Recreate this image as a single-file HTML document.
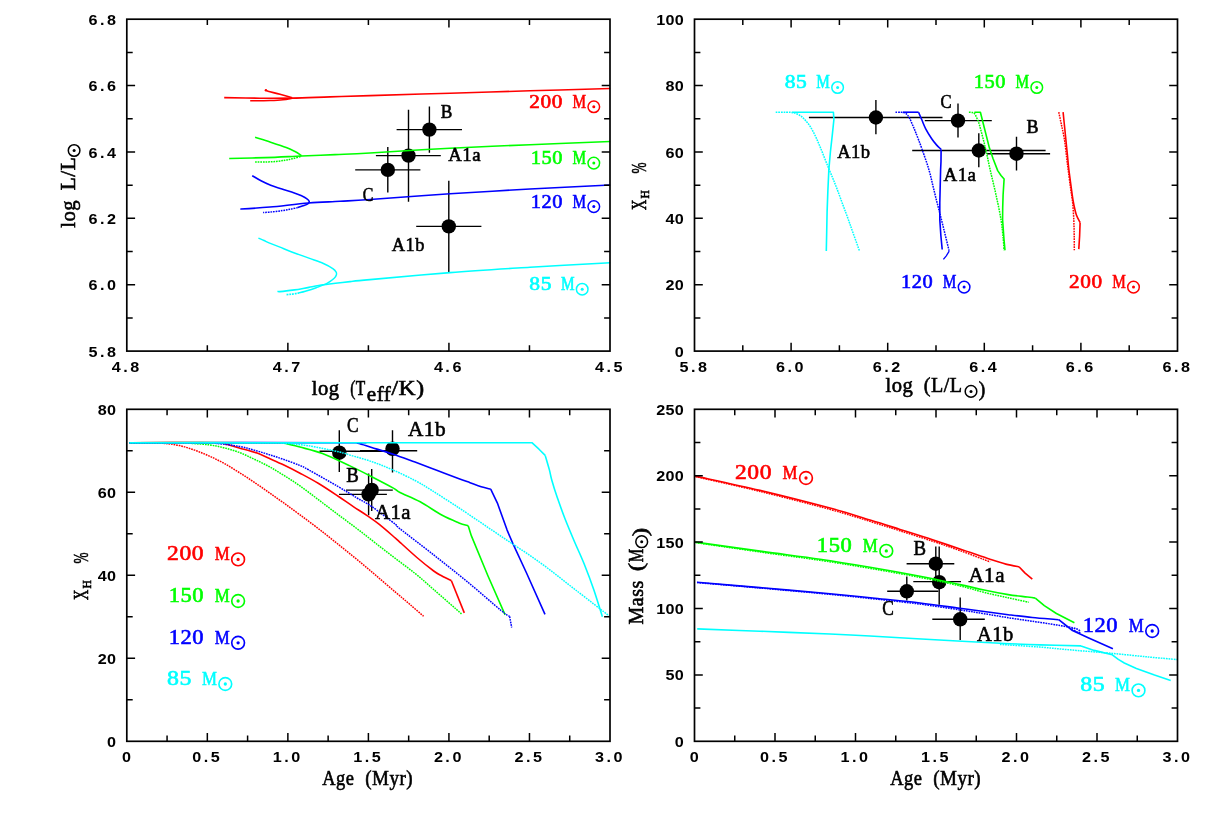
<!DOCTYPE html>
<html><head><meta charset="utf-8"><title>Evolution tracks</title>
<style>
html,body{margin:0;padding:0;background:#fff;}
body{width:1208px;height:830px;overflow:hidden;font-family:"Liberation Serif",serif;}
svg{display:block;will-change:transform;}
</style></head><body>
<svg width="1208" height="830" viewBox="0 0 1208 830">
<rect width="1208" height="830" fill="#fff"/>
<path d="M396.6 129.6H462.0M429.4 106.6V152.7" stroke="#000" stroke-width="1.4" fill="none"/>
<circle cx="429.4" cy="129.6" r="7.2" fill="#000"/>
<path d="M375.9 155.6H440.8M408.5 109.8V201.7" stroke="#000" stroke-width="1.4" fill="none"/>
<circle cx="408.5" cy="155.6" r="7.2" fill="#000"/>
<path d="M355.2 169.9H420.4M387.8 146.9V192.4" stroke="#000" stroke-width="1.4" fill="none"/>
<circle cx="387.8" cy="169.9" r="7.2" fill="#000"/>
<path d="M416.2 226.4H481.4M448.8 180.8V272.0" stroke="#000" stroke-width="1.4" fill="none"/>
<circle cx="448.8" cy="226.4" r="7.2" fill="#000"/>
<path d="M224.2 97.6C230.2 97.7 248.7 98.1 260.0 98.2C271.3 98.3 280.5 98.3 292.2 98.1C303.9 97.9 317.0 97.3 330.0 96.9C343.0 96.5 350.0 96.2 370.0 95.6C390.0 95.0 423.3 94.0 450.0 93.2C476.7 92.4 503.3 91.6 530.0 90.8C556.7 90.0 596.8 88.9 610.2 88.5" fill="none" stroke="#ff0000" stroke-width="1.60" stroke-linejoin="round"/>
<path d="M265.7 90.1C266.1 90.3 265.6 90.5 268.0 91.2C270.4 91.9 276.0 93.2 280.0 94.3C284.0 95.4 290.2 97.2 292.2 97.8" fill="none" stroke="#ff0000" stroke-width="1.60" stroke-linejoin="round"/>
<circle cx="265.9" cy="90.2" r="1.2" fill="#ff0000"/>
<path d="M250.2 100.7C253.5 100.7 264.5 100.7 270.0 100.5C275.5 100.3 279.3 100.1 283.0 99.7C286.7 99.3 290.7 98.5 292.2 98.3" fill="none" stroke="#ff0000" stroke-width="1.60" stroke-linejoin="round"/>
<path d="M229.2 158.5C235.2 158.3 252.9 158.0 265.0 157.6C277.1 157.2 289.8 156.5 301.5 156.0C313.2 155.5 323.6 155.1 335.0 154.6C346.4 154.1 350.8 154.1 370.0 153.0C389.2 151.9 423.3 149.6 450.0 148.2C476.7 146.8 503.3 145.8 530.0 144.7C556.7 143.6 596.8 142.0 610.2 141.5" fill="none" stroke="#00ff00" stroke-width="1.60" stroke-linejoin="round"/>
<path d="M255.1 137.3C257.6 138.1 264.8 140.3 270.0 142.0C275.2 143.7 282.0 145.9 286.2 147.5C290.4 149.1 292.4 150.2 295.0 151.5C297.6 152.8 300.4 154.9 301.5 155.6" fill="none" stroke="#00ff00" stroke-width="1.60" stroke-linejoin="round"/>
<path d="M255.1 162.1C256.9 162.1 262.5 162.1 266.0 162.0C269.5 161.9 273.1 161.7 276.3 161.4C279.5 161.1 282.4 160.7 285.0 160.3C287.6 159.9 289.4 159.5 292.2 158.8C294.9 158.1 299.9 156.6 301.5 156.2" fill="none" stroke="#00ff00" stroke-width="1.50" stroke-linejoin="round" stroke-dasharray="1.7 0.9"/>
<path d="M240.4 209.1C245.3 208.8 258.6 208.0 270.0 207.0C281.4 206.0 296.9 203.9 308.6 203.0C320.3 202.1 329.8 201.9 340.0 201.3C350.2 200.7 351.7 200.8 370.0 199.5C388.3 198.2 423.3 195.6 450.0 193.8C476.7 192.1 503.3 190.5 530.0 189.0C556.7 187.5 596.8 185.7 610.2 185.0" fill="none" stroke="#0000ff" stroke-width="1.60" stroke-linejoin="round"/>
<path d="M252.2 175.7C253.7 176.5 257.9 179.2 261.0 180.8C264.1 182.4 267.2 183.9 270.7 185.3C274.2 186.7 278.1 187.7 282.0 189.0C285.9 190.3 291.0 191.7 294.3 192.9C297.6 194.1 299.9 195.1 302.0 196.0C304.1 196.9 305.4 197.7 306.6 198.6C307.8 199.5 309.0 200.4 309.2 201.3C309.4 202.2 308.8 203.1 307.8 203.8C306.8 204.6 304.7 205.2 303.0 205.8C301.3 206.4 298.6 207.3 297.7 207.6" fill="none" stroke="#0000ff" stroke-width="1.60" stroke-linejoin="round"/>
<path d="M297.7 207.6C296.4 207.9 292.5 208.8 290.0 209.3C287.5 209.8 285.3 210.2 282.5 210.6C279.7 211.0 276.2 211.5 273.0 211.8C269.8 212.1 264.8 212.5 263.1 212.6" fill="none" stroke="#0000ff" stroke-width="1.50" stroke-linejoin="round" stroke-dasharray="1.7 0.9"/>
<path d="M258.4 238.1C259.3 238.5 262.2 239.7 264.0 240.5C265.8 241.3 266.3 241.7 269.0 242.8C271.7 243.9 275.8 245.5 280.0 247.2C284.2 248.9 289.7 251.2 294.5 253.0C299.3 254.8 304.1 256.4 308.9 258.1C313.7 259.9 319.4 261.8 323.4 263.5C327.4 265.2 330.7 267.2 332.8 268.6C334.9 270.0 335.4 270.8 336.0 271.8C336.6 272.8 336.7 273.6 336.4 274.7C336.1 275.8 335.8 276.9 334.2 278.3C332.6 279.8 330.0 281.8 327.0 283.4C324.0 285.0 319.8 286.4 316.2 287.7C312.6 289.0 308.2 290.4 305.3 291.3C302.4 292.2 300.1 292.6 299.0 292.9" fill="none" stroke="#00ffff" stroke-width="1.45" stroke-linejoin="round"/>
<path d="M299 292.9C296 293.6 291 294.4 285.8 294.7" fill="none" stroke="#00ffff" stroke-width="1.7" stroke-dasharray="1.8 0.9"/>
<path d="M277.5 291.2C277.9 291.3 277.2 291.8 280.0 291.6C282.8 291.4 289.7 290.6 294.5 289.9C299.3 289.2 304.1 288.2 308.9 287.4C313.7 286.5 318.6 285.5 323.4 284.8C328.2 284.1 333.4 283.5 337.8 283.0C342.2 282.5 344.6 282.2 350.0 281.6C355.4 281.0 353.3 281.1 370.0 279.6C386.7 278.1 423.3 274.7 450.0 272.6C476.7 270.5 503.3 268.9 530.0 267.2C556.7 265.5 596.8 263.4 610.2 262.7" fill="none" stroke="#00ffff" stroke-width="1.60" stroke-linejoin="round"/>
<text x="529.30" y="107.70" style="font-family:'Liberation Serif',serif;font-size:18.6px;letter-spacing:0.5px" fill="#ff0000" stroke="#ff0000" stroke-width="0.60" text-anchor="start" textLength="33.6" lengthAdjust="spacingAndGlyphs">200</text>
<text x="572.50" y="107.70" style="font-family:'Liberation Serif',serif;font-size:17.9px;letter-spacing:0.5px" fill="#ff0000" stroke="#ff0000" stroke-width="0.60" text-anchor="start" textLength="14.0" lengthAdjust="spacingAndGlyphs">M</text>
<circle cx="593.8" cy="106.8" r="5.80" fill="none" stroke="#ff0000" stroke-width="1.50"/>
<circle cx="593.8" cy="106.8" r="1.50" fill="#ff0000"/>
<text x="530.70" y="164.00" style="font-family:'Liberation Serif',serif;font-size:18.6px;letter-spacing:0.5px" fill="#00ff00" stroke="#00ff00" stroke-width="0.60" text-anchor="start" textLength="32.2" lengthAdjust="spacingAndGlyphs">150</text>
<text x="572.50" y="164.00" style="font-family:'Liberation Serif',serif;font-size:17.9px;letter-spacing:0.5px" fill="#00ff00" stroke="#00ff00" stroke-width="0.60" text-anchor="start" textLength="14.0" lengthAdjust="spacingAndGlyphs">M</text>
<circle cx="593.8" cy="163.1" r="5.80" fill="none" stroke="#00ff00" stroke-width="1.50"/>
<circle cx="593.8" cy="163.1" r="1.50" fill="#00ff00"/>
<text x="530.70" y="207.50" style="font-family:'Liberation Serif',serif;font-size:18.6px;letter-spacing:0.5px" fill="#0000ff" stroke="#0000ff" stroke-width="0.60" text-anchor="start" textLength="32.2" lengthAdjust="spacingAndGlyphs">120</text>
<text x="572.50" y="207.50" style="font-family:'Liberation Serif',serif;font-size:17.9px;letter-spacing:0.5px" fill="#0000ff" stroke="#0000ff" stroke-width="0.60" text-anchor="start" textLength="14.0" lengthAdjust="spacingAndGlyphs">M</text>
<circle cx="593.8" cy="206.6" r="5.80" fill="none" stroke="#0000ff" stroke-width="1.50"/>
<circle cx="593.8" cy="206.6" r="1.50" fill="#0000ff"/>
<text x="529.30" y="290.10" style="font-family:'Liberation Serif',serif;font-size:18.6px;letter-spacing:0.5px" fill="#00ffff" stroke="#00ffff" stroke-width="0.60" text-anchor="start" textLength="22.7" lengthAdjust="spacingAndGlyphs">85</text>
<text x="560.90" y="290.10" style="font-family:'Liberation Serif',serif;font-size:17.9px;letter-spacing:0.5px" fill="#00ffff" stroke="#00ffff" stroke-width="0.60" text-anchor="start" textLength="14.0" lengthAdjust="spacingAndGlyphs">M</text>
<circle cx="582.2" cy="289.2" r="5.80" fill="none" stroke="#00ffff" stroke-width="1.50"/>
<circle cx="582.2" cy="289.2" r="1.50" fill="#00ffff"/>
<text x="440.80" y="117.70" style="font-family:'Liberation Serif',serif;font-size:19.8px;letter-spacing:0.5px" fill="#000" stroke="#000" stroke-width="0.60" text-anchor="start" textLength="12.0" lengthAdjust="spacingAndGlyphs">B</text>
<text x="448.30" y="161.40" style="font-family:'Liberation Serif',serif;font-size:19.8px;letter-spacing:0.5px" fill="#000" stroke="#000" stroke-width="0.60" text-anchor="start" textLength="32.8" lengthAdjust="spacingAndGlyphs">A1a</text>
<text x="362.70" y="200.60" style="font-family:'Liberation Serif',serif;font-size:19.8px;letter-spacing:0.5px" fill="#000" stroke="#000" stroke-width="0.60" text-anchor="start" textLength="11.0" lengthAdjust="spacingAndGlyphs">C</text>
<text x="391.80" y="250.80" style="font-family:'Liberation Serif',serif;font-size:19.8px;letter-spacing:0.5px" fill="#000" stroke="#000" stroke-width="0.60" text-anchor="start" textLength="33.1" lengthAdjust="spacingAndGlyphs">A1b</text>
<path d="M808.9 117.5H942.5M875.9 100.0V134.2" stroke="#000" stroke-width="1.4" fill="none"/>
<circle cx="875.9" cy="117.5" r="7.2" fill="#000"/>
<path d="M924.8 120.6H991.8M958.0 103.4V137.6" stroke="#000" stroke-width="1.4" fill="none"/>
<circle cx="958.0" cy="120.6" r="7.2" fill="#000"/>
<path d="M912.2 150.5H1045.6M978.8 133.3V167.2" stroke="#000" stroke-width="1.4" fill="none"/>
<circle cx="978.8" cy="150.5" r="7.2" fill="#000"/>
<path d="M987.0 153.7H1050.1M1016.5 136.7V170.6" stroke="#000" stroke-width="1.4" fill="none"/>
<circle cx="1016.5" cy="153.7" r="7.2" fill="#000"/>
<polyline points="792.0,112.2 833.4,112.2 833.9,119.5 832.2,135.9 830.4,152.0 828.9,168.9 827.9,190.0 827.1,211.9 826.7,232.0 826.3,251.1" fill="none" stroke="#00ffff" stroke-width="1.60" stroke-linejoin="round"/>
<path d="M775.7 112.2C777.4 112.2 783.0 112.1 786.0 112.2C789.0 112.3 791.1 112.2 793.5 112.8C795.9 113.4 798.5 114.4 800.5 115.7C802.5 117.0 803.8 118.6 805.5 120.5C807.2 122.4 808.9 124.3 810.6 127.1C812.3 129.8 814.1 133.4 815.8 137.0C817.5 140.6 818.6 143.3 820.8 148.6C823.0 153.9 826.3 162.6 828.9 168.9C831.5 175.2 833.8 180.6 836.1 186.5C838.4 192.4 840.7 199.0 842.7 204.3C844.7 209.6 846.2 213.7 847.9 218.3C849.6 223.0 850.8 226.7 852.8 232.2C854.8 237.7 858.5 248.1 859.6 251.3" fill="none" stroke="#00ffff" stroke-width="1.50" stroke-linejoin="round" stroke-dasharray="1.7 0.9"/>
<polyline points="903.0,112.2 918.6,112.2" fill="none" stroke="#0000ff" stroke-width="1.60" stroke-linejoin="round"/>
<path d="M918.6 112.2C919.1 113.5 920.6 117.0 921.8 119.8C923.0 122.6 924.1 125.7 925.7 128.8C927.4 132.0 929.9 136.0 931.7 138.7C933.5 141.4 935.1 143.3 936.7 145.1C938.3 146.9 940.4 148.7 941.1 149.4" fill="none" stroke="#0000ff" stroke-width="1.60" stroke-linejoin="round"/>
<polyline points="941.1,149.4 941.0,161.3 940.6,170.0 939.8,203.1 939.8,219.7 940.9,236.0 942.2,249.5" fill="none" stroke="#0000ff" stroke-width="1.60" stroke-linejoin="round"/>
<path d="M895.5 112.2C896.4 112.2 899.4 112.2 901.0 112.3C902.6 112.4 903.8 112.4 904.9 112.9C906.0 113.4 906.8 114.2 907.6 115.2C908.4 116.2 909.0 117.1 909.9 118.8C910.8 120.5 911.8 123.2 912.8 125.5C913.8 127.8 914.3 128.8 915.8 132.7C917.3 136.5 919.6 142.4 921.8 148.6C924.0 154.8 927.0 163.1 929.0 170.0C931.0 176.9 932.2 183.3 933.9 189.9C935.5 196.5 937.2 203.1 938.9 209.7C940.6 216.3 942.2 222.7 943.9 229.6C945.6 236.5 948.3 247.5 949.2 251.1" fill="none" stroke="#0000ff" stroke-width="1.50" stroke-linejoin="round" stroke-dasharray="1.7 0.9"/>
<polyline points="949.2,251.1 946.3,255.8 943.4,259.4" fill="none" stroke="#0000ff" stroke-width="1.30" stroke-linejoin="round"/>
<polyline points="974.4,112.2 980.4,112.2 984.3,127.8 989.3,147.6 993.0,158.5 997.7,170.6 1001.0,175.5 1004.1,179.1 1003.1,194.8 1002.7,208.0 1002.6,219.7 1004.0,239.5 1005.0,250.3" fill="none" stroke="#00ff00" stroke-width="1.60" stroke-linejoin="round"/>
<path d="M968.9 112.2C969.4 112.2 971.1 112.3 972.0 112.5C972.9 112.7 973.6 112.5 974.4 113.4C975.2 114.3 976.0 116.1 976.8 118.0C977.6 119.9 978.0 119.9 979.4 124.8C980.8 129.7 983.5 140.1 985.3 147.6C987.1 155.1 988.4 162.1 990.2 170.0C992.0 177.9 994.2 186.5 996.0 194.8C997.8 203.1 999.8 212.2 1001.0 219.7C1002.2 227.1 1002.8 234.4 1003.3 239.5C1003.8 244.6 1003.9 248.5 1004.0 250.3" fill="none" stroke="#00ff00" stroke-width="1.50" stroke-linejoin="round" stroke-dasharray="1.7 0.9"/>
<path d="M1063.1 112.2C1063.4 115.0 1064.2 123.4 1064.8 129.0C1065.4 134.6 1066.0 141.2 1066.5 146.0C1067.0 150.8 1067.3 154.0 1067.7 158.0C1068.1 162.0 1068.2 163.9 1068.9 170.0C1069.7 176.1 1071.4 188.9 1072.2 194.8C1073.0 200.7 1073.3 202.2 1074.0 205.5C1074.7 208.8 1075.3 211.8 1076.3 214.7C1077.3 217.5 1079.5 221.3 1080.1 222.6" fill="none" stroke="#ff0000" stroke-width="1.60" stroke-linejoin="round"/>
<polyline points="1080.1,222.6 1079.6,236.2 1078.8,249.1" fill="none" stroke="#ff0000" stroke-width="1.60" stroke-linejoin="round"/>
<path d="M1058.8 112.2C1059.2 114.3 1060.5 120.3 1061.5 125.0C1062.5 129.7 1063.8 135.2 1064.6 140.5C1065.4 145.8 1066.0 152.1 1066.6 157.0C1067.2 161.9 1067.5 164.8 1068.2 170.0C1068.9 175.2 1069.8 182.5 1070.6 188.0C1071.3 193.5 1072.2 197.8 1072.7 203.1C1073.2 208.4 1073.5 214.4 1073.8 219.7C1074.0 225.0 1074.1 229.9 1074.2 235.0C1074.3 240.1 1074.3 247.8 1074.3 250.3" fill="none" stroke="#ff0000" stroke-width="1.50" stroke-linejoin="round" stroke-dasharray="1.7 0.9"/>
<text x="784.70" y="88.40" style="font-family:'Liberation Serif',serif;font-size:18.6px;letter-spacing:0.5px" fill="#00ffff" stroke="#00ffff" stroke-width="0.60" text-anchor="start" textLength="22.7" lengthAdjust="spacingAndGlyphs">85</text>
<text x="816.30" y="88.40" style="font-family:'Liberation Serif',serif;font-size:17.9px;letter-spacing:0.5px" fill="#00ffff" stroke="#00ffff" stroke-width="0.60" text-anchor="start" textLength="14.0" lengthAdjust="spacingAndGlyphs">M</text>
<circle cx="837.6" cy="87.5" r="5.80" fill="none" stroke="#00ffff" stroke-width="1.50"/>
<circle cx="837.6" cy="87.5" r="1.50" fill="#00ffff"/>
<text x="973.70" y="88.40" style="font-family:'Liberation Serif',serif;font-size:18.6px;letter-spacing:0.5px" fill="#00ff00" stroke="#00ff00" stroke-width="0.60" text-anchor="start" textLength="32.2" lengthAdjust="spacingAndGlyphs">150</text>
<text x="1015.50" y="88.40" style="font-family:'Liberation Serif',serif;font-size:17.9px;letter-spacing:0.5px" fill="#00ff00" stroke="#00ff00" stroke-width="0.60" text-anchor="start" textLength="14.0" lengthAdjust="spacingAndGlyphs">M</text>
<circle cx="1036.8" cy="87.5" r="5.80" fill="none" stroke="#00ff00" stroke-width="1.50"/>
<circle cx="1036.8" cy="87.5" r="1.50" fill="#00ff00"/>
<text x="901.00" y="288.00" style="font-family:'Liberation Serif',serif;font-size:18.6px;letter-spacing:0.5px" fill="#0000ff" stroke="#0000ff" stroke-width="0.60" text-anchor="start" textLength="32.2" lengthAdjust="spacingAndGlyphs">120</text>
<text x="942.80" y="288.00" style="font-family:'Liberation Serif',serif;font-size:17.9px;letter-spacing:0.5px" fill="#0000ff" stroke="#0000ff" stroke-width="0.60" text-anchor="start" textLength="14.0" lengthAdjust="spacingAndGlyphs">M</text>
<circle cx="964.1" cy="287.1" r="5.80" fill="none" stroke="#0000ff" stroke-width="1.50"/>
<circle cx="964.1" cy="287.1" r="1.50" fill="#0000ff"/>
<text x="1069.00" y="288.00" style="font-family:'Liberation Serif',serif;font-size:18.6px;letter-spacing:0.5px" fill="#ff0000" stroke="#ff0000" stroke-width="0.60" text-anchor="start" textLength="33.6" lengthAdjust="spacingAndGlyphs">200</text>
<text x="1112.20" y="288.00" style="font-family:'Liberation Serif',serif;font-size:17.9px;letter-spacing:0.5px" fill="#ff0000" stroke="#ff0000" stroke-width="0.60" text-anchor="start" textLength="14.0" lengthAdjust="spacingAndGlyphs">M</text>
<circle cx="1133.5" cy="287.1" r="5.80" fill="none" stroke="#ff0000" stroke-width="1.50"/>
<circle cx="1133.5" cy="287.1" r="1.50" fill="#ff0000"/>
<text x="940.60" y="107.90" style="font-family:'Liberation Serif',serif;font-size:19.8px;letter-spacing:0.5px" fill="#000" stroke="#000" stroke-width="0.60" text-anchor="start" textLength="11.5" lengthAdjust="spacingAndGlyphs">C</text>
<text x="1026.60" y="132.80" style="font-family:'Liberation Serif',serif;font-size:19.8px;letter-spacing:0.5px" fill="#000" stroke="#000" stroke-width="0.60" text-anchor="start" textLength="12.5" lengthAdjust="spacingAndGlyphs">B</text>
<text x="943.50" y="181.00" style="font-family:'Liberation Serif',serif;font-size:19.8px;letter-spacing:0.5px" fill="#000" stroke="#000" stroke-width="0.60" text-anchor="start" textLength="33.0" lengthAdjust="spacingAndGlyphs">A1a</text>
<text x="837.20" y="157.50" style="font-family:'Liberation Serif',serif;font-size:19.8px;letter-spacing:0.5px" fill="#000" stroke="#000" stroke-width="0.60" text-anchor="start" textLength="33.4" lengthAdjust="spacingAndGlyphs">A1b</text>
<path d="M319.5 451.3H386.0M339.3 430.2V471.9" stroke="#000" stroke-width="1.4" fill="none"/>
<circle cx="339.3" cy="452.7" r="7.2" fill="#000"/>
<path d="M360.0 450.8H417.2M392.5 430.2V472.4" stroke="#000" stroke-width="1.4" fill="none"/>
<circle cx="392.5" cy="448.8" r="7.2" fill="#000"/>
<path d="M339.0 494.4H386.9M368.6 473.5V515.2" stroke="#000" stroke-width="1.4" fill="none"/>
<circle cx="368.6" cy="494.4" r="7.2" fill="#000"/>
<path d="M346.0 490.1H392.8M371.7 469.1V510.9" stroke="#000" stroke-width="1.4" fill="none"/>
<circle cx="371.7" cy="489.9" r="7.2" fill="#000"/>
<path d="M129.5 442.7C132.9 442.7 144.1 442.7 150.0 442.8C155.9 442.9 159.8 442.9 164.7 443.4C169.6 443.9 174.6 444.5 179.6 445.6C184.6 446.7 189.5 448.4 194.5 450.1C199.5 451.9 204.4 453.9 209.4 456.1C214.4 458.3 219.3 460.8 224.3 463.5C229.3 466.2 234.2 469.4 239.2 472.5C244.2 475.6 249.1 478.8 254.1 482.2C259.1 485.6 264.0 489.1 269.0 492.6C274.0 496.1 278.7 499.3 283.9 503.0C289.1 506.7 294.2 510.6 300.0 514.9C305.8 519.2 312.3 523.9 318.6 528.8C324.9 533.6 331.4 538.9 337.8 544.0C344.2 549.1 350.7 554.4 357.1 559.6C363.5 564.9 369.6 570.0 376.0 575.5C382.4 581.0 390.0 587.6 395.7 592.4C401.4 597.2 405.4 600.5 410.0 604.5C414.6 608.5 421.3 614.3 423.6 616.3" fill="none" stroke="#ff0000" stroke-width="1.50" stroke-linejoin="round" stroke-dasharray="1.7 0.9"/>
<path d="M129.5 442.7C143.8 442.7 199.2 442.5 215.0 442.7C230.8 442.9 220.3 442.8 224.3 443.7C228.3 444.6 233.7 446.3 239.2 447.9C244.7 449.5 252.1 451.4 257.1 453.1C262.1 454.8 264.5 456.3 269.0 458.3C273.5 460.3 278.7 462.5 283.9 465.0C289.1 467.5 294.2 470.1 300.0 473.2C305.8 476.3 312.3 479.7 318.6 483.5C324.9 487.3 332.0 492.1 337.8 496.0C343.6 499.9 348.5 503.4 353.3 506.6C358.1 509.8 362.4 512.3 366.7 515.3C371.0 518.3 374.5 520.5 379.3 524.4C384.1 528.2 392.2 535.4 395.7 538.4C399.1 541.4 396.5 539.1 400.0 542.3C403.5 545.5 411.3 552.7 416.9 557.5C422.5 562.3 429.5 567.9 433.7 571.0C437.9 574.1 439.1 574.4 442.0 576.0C444.9 577.6 449.8 579.9 451.4 580.7" fill="none" stroke="#ff0000" stroke-width="1.60" stroke-linejoin="round"/>
<polyline points="451.4,580.7 464.3,612.9" fill="none" stroke="#ff0000" stroke-width="1.60" stroke-linejoin="round"/>
<path d="M129.5 442.7C137.9 442.7 169.7 442.6 180.0 442.7C190.3 442.8 186.6 443.0 191.5 443.4C196.4 443.8 203.9 444.1 209.4 444.9C214.9 445.6 219.3 446.6 224.3 447.9C229.3 449.1 234.2 450.5 239.2 452.4C244.2 454.3 249.1 456.8 254.1 459.1C259.1 461.5 264.0 463.8 269.0 466.5C274.0 469.2 278.7 472.2 283.9 475.4C289.1 478.6 294.2 481.8 300.0 485.9C305.8 490.0 312.3 495.1 318.6 499.8C324.9 504.6 331.4 509.6 337.8 514.4C344.2 519.2 350.7 523.9 357.1 528.8C363.5 533.6 369.6 538.5 376.0 543.5C382.4 548.5 389.0 553.6 395.7 558.7C402.4 563.8 409.7 569.1 416.0 574.2C422.3 579.3 426.1 582.9 433.7 589.5C441.3 596.1 457.0 609.9 461.6 614.0" fill="none" stroke="#00ff00" stroke-width="1.50" stroke-linejoin="round" stroke-dasharray="1.7 0.9"/>
<path d="M129.5 442.7C153.2 442.7 246.3 442.6 272.0 442.7C297.7 442.8 279.2 442.4 283.9 443.1C288.6 443.8 293.6 445.4 300.0 447.1C306.4 448.8 314.2 450.4 322.5 453.5C330.8 456.6 341.8 462.0 350.0 465.9C358.2 469.8 364.5 473.0 371.7 476.7C378.9 480.4 388.7 485.5 393.4 488.1C398.1 490.7 395.5 490.2 400.0 492.5C404.5 494.8 413.2 498.0 420.2 501.8C427.2 505.6 435.7 511.8 442.2 515.3C448.7 518.8 454.7 521.1 459.0 522.9C463.3 524.6 466.7 525.3 468.2 525.8" fill="none" stroke="#00ff00" stroke-width="1.60" stroke-linejoin="round"/>
<polyline points="468.2,525.8 471.4,535.9 488.0,576.0 505.1,614.9" fill="none" stroke="#00ff00" stroke-width="1.60" stroke-linejoin="round"/>
<path d="M129.5 442.7C142.1 442.7 190.4 442.6 205.0 442.7C219.6 442.8 211.2 442.8 216.9 443.4C222.6 444.0 233.0 445.3 239.2 446.4C245.4 447.5 249.1 448.7 254.1 450.1C259.1 451.5 264.0 453.0 269.0 454.6C274.0 456.2 278.7 457.7 283.9 459.5C289.1 461.3 295.8 463.8 300.0 465.5C304.2 467.2 302.6 466.5 308.9 470.0C315.2 473.5 329.8 481.7 337.8 486.4C345.8 491.1 351.5 494.6 357.1 498.0C362.8 501.4 365.3 502.1 371.7 506.5C378.1 510.9 390.8 520.7 395.5 524.4C400.2 528.1 393.6 523.7 400.0 528.8C406.4 533.9 422.4 546.0 433.7 554.9C444.9 563.8 456.2 572.6 467.5 581.9C478.8 591.2 494.2 604.8 501.2 610.6C508.2 616.4 508.2 615.5 509.6 616.5" fill="none" stroke="#0000ff" stroke-width="1.50" stroke-linejoin="round" stroke-dasharray="1.7 0.9"/>
<polyline points="509.6,616.5 511.7,627.5" fill="none" stroke="#0000ff" stroke-width="1.50" stroke-linejoin="round" stroke-dasharray="1.7 0.9"/>
<path d="M129.5 442.7C165.8 442.7 309.0 442.6 347.0 442.7C385.0 442.8 353.5 442.4 357.6 443.2C361.7 444.0 365.9 445.7 371.7 447.5C377.5 449.3 385.3 451.6 392.5 454.0C399.7 456.4 407.6 459.4 415.0 462.1C422.4 464.8 429.5 467.5 436.7 470.2C443.9 472.9 452.8 476.3 458.4 478.4C463.9 480.5 466.2 481.3 470.0 482.7C473.8 484.1 477.8 485.7 481.2 486.8C484.6 487.9 489.1 488.7 490.7 489.1" fill="none" stroke="#0000ff" stroke-width="1.60" stroke-linejoin="round"/>
<polyline points="490.7,489.1 497.4,503.1 507.1,530.1 512.9,543.6 526.3,572.5 545.0,614.3" fill="none" stroke="#0000ff" stroke-width="1.60" stroke-linejoin="round"/>
<path d="M129.5 442.7C153.2 442.7 246.6 442.6 272.0 442.7C297.4 442.8 276.0 442.5 282.0 443.0C288.0 443.5 298.4 444.2 308.0 445.7C317.6 447.2 332.8 450.5 339.8 452.1C346.8 453.7 344.7 453.5 350.0 455.1C355.3 456.7 364.6 459.2 371.7 461.6C378.8 464.0 385.1 466.6 392.3 469.7C399.5 472.8 408.5 477.1 415.0 480.5C421.5 483.9 425.4 486.4 431.2 490.0C437.0 493.6 443.9 498.1 450.0 502.0C456.1 505.9 459.0 507.9 467.5 513.6C476.0 519.3 489.1 528.2 501.2 536.4C513.3 544.5 527.7 553.6 540.0 562.5C552.3 571.4 563.3 580.5 575.0 589.5C586.7 598.5 604.2 612.1 610.0 616.6" fill="none" stroke="#00ffff" stroke-width="1.50" stroke-linejoin="round" stroke-dasharray="1.7 0.9"/>
<polyline points="129.5,442.7 531.9,442.7 539.0,449.2 545.2,455.4" fill="none" stroke="#00ffff" stroke-width="1.60" stroke-linejoin="round"/>
<path d="M545.2 455.4C545.9 457.8 548.3 465.7 549.4 469.9C550.5 474.1 550.6 475.9 551.9 480.5C553.2 485.1 555.0 491.0 557.2 497.3C559.4 503.6 562.0 511.1 564.9 518.5C567.8 525.9 571.3 534.2 574.5 541.7C577.7 549.2 580.9 555.8 584.1 563.8C587.3 571.8 590.8 581.0 593.8 589.8C596.8 598.6 601.0 612.3 602.4 616.8" fill="none" stroke="#00ffff" stroke-width="1.60" stroke-linejoin="round"/>
<text x="167.14" y="560.40" style="font-family:'Liberation Serif',serif;font-size:20.5px;letter-spacing:0.5px" fill="#ff0000" stroke="#ff0000" stroke-width="0.60" text-anchor="start" textLength="37.0" lengthAdjust="spacingAndGlyphs">200</text>
<text x="214.66" y="560.40" style="font-family:'Liberation Serif',serif;font-size:19.6px;letter-spacing:0.5px" fill="#ff0000" stroke="#ff0000" stroke-width="0.60" text-anchor="start" textLength="15.4" lengthAdjust="spacingAndGlyphs">M</text>
<circle cx="238.1" cy="559.4" r="6.38" fill="none" stroke="#ff0000" stroke-width="1.65"/>
<circle cx="238.1" cy="559.4" r="1.65" fill="#ff0000"/>
<text x="168.68" y="602.00" style="font-family:'Liberation Serif',serif;font-size:20.5px;letter-spacing:0.5px" fill="#00ff00" stroke="#00ff00" stroke-width="0.60" text-anchor="start" textLength="35.4" lengthAdjust="spacingAndGlyphs">150</text>
<text x="214.66" y="602.00" style="font-family:'Liberation Serif',serif;font-size:19.6px;letter-spacing:0.5px" fill="#00ff00" stroke="#00ff00" stroke-width="0.60" text-anchor="start" textLength="15.4" lengthAdjust="spacingAndGlyphs">M</text>
<circle cx="238.1" cy="601.0" r="6.38" fill="none" stroke="#00ff00" stroke-width="1.65"/>
<circle cx="238.1" cy="601.0" r="1.65" fill="#00ff00"/>
<text x="168.68" y="643.80" style="font-family:'Liberation Serif',serif;font-size:20.5px;letter-spacing:0.5px" fill="#0000ff" stroke="#0000ff" stroke-width="0.60" text-anchor="start" textLength="35.4" lengthAdjust="spacingAndGlyphs">120</text>
<text x="214.66" y="643.80" style="font-family:'Liberation Serif',serif;font-size:19.6px;letter-spacing:0.5px" fill="#0000ff" stroke="#0000ff" stroke-width="0.60" text-anchor="start" textLength="15.4" lengthAdjust="spacingAndGlyphs">M</text>
<circle cx="238.1" cy="642.8" r="6.38" fill="none" stroke="#0000ff" stroke-width="1.65"/>
<circle cx="238.1" cy="642.8" r="1.65" fill="#0000ff"/>
<text x="167.14" y="685.00" style="font-family:'Liberation Serif',serif;font-size:20.5px;letter-spacing:0.5px" fill="#00ffff" stroke="#00ffff" stroke-width="0.60" text-anchor="start" textLength="25.0" lengthAdjust="spacingAndGlyphs">85</text>
<text x="201.90" y="685.00" style="font-family:'Liberation Serif',serif;font-size:19.6px;letter-spacing:0.5px" fill="#00ffff" stroke="#00ffff" stroke-width="0.60" text-anchor="start" textLength="15.4" lengthAdjust="spacingAndGlyphs">M</text>
<circle cx="225.3" cy="684.0" r="6.38" fill="none" stroke="#00ffff" stroke-width="1.65"/>
<circle cx="225.3" cy="684.0" r="1.65" fill="#00ffff"/>
<text x="347.00" y="432.00" style="font-family:'Liberation Serif',serif;font-size:21.8px;letter-spacing:0.5px" fill="#000" stroke="#000" stroke-width="0.60" text-anchor="start" textLength="12.0" lengthAdjust="spacingAndGlyphs">C</text>
<text x="407.90" y="436.30" style="font-family:'Liberation Serif',serif;font-size:21.8px;letter-spacing:0.5px" fill="#000" stroke="#000" stroke-width="0.60" text-anchor="start" textLength="38.2" lengthAdjust="spacingAndGlyphs">A1b</text>
<text x="346.20" y="481.50" style="font-family:'Liberation Serif',serif;font-size:21.8px;letter-spacing:0.5px" fill="#000" stroke="#000" stroke-width="0.60" text-anchor="start" textLength="13.0" lengthAdjust="spacingAndGlyphs">B</text>
<text x="374.90" y="518.80" style="font-family:'Liberation Serif',serif;font-size:21.8px;letter-spacing:0.5px" fill="#000" stroke="#000" stroke-width="0.60" text-anchor="start" textLength="36.2" lengthAdjust="spacingAndGlyphs">A1a</text>
<path d="M906.6 563.7H954.3M935.8 546.4V581.0" stroke="#000" stroke-width="1.4" fill="none"/>
<circle cx="935.8" cy="563.7" r="7.2" fill="#000"/>
<path d="M913.3 581.6H961.0M939.2 546.4V604.7" stroke="#000" stroke-width="1.4" fill="none"/>
<circle cx="939.2" cy="582.2" r="7.2" fill="#000"/>
<path d="M887.2 591.3H938.4M906.8 576.6V600.6" stroke="#000" stroke-width="1.4" fill="none"/>
<circle cx="906.8" cy="591.3" r="7.2" fill="#000"/>
<path d="M932.3 619.3H984.8M960.2 597.5V639.9" stroke="#000" stroke-width="1.4" fill="none"/>
<circle cx="960.2" cy="619.3" r="7.2" fill="#000"/>
<path d="M695.4 476.1C706.2 478.5 737.6 485.1 760.0 490.4C782.4 495.7 811.7 503.2 830.0 508.1C848.3 513.0 858.3 516.5 870.0 520.0C881.7 523.5 889.6 526.1 900.0 529.4C910.4 532.7 922.6 536.5 932.6 539.8C942.6 543.1 950.4 545.8 960.0 549.0C969.6 552.2 982.5 556.8 990.1 559.3C997.7 561.8 1001.0 562.9 1005.8 564.1C1010.6 565.3 1016.8 566.3 1019.0 566.7" fill="none" stroke="#ff0000" stroke-width="1.60" stroke-linejoin="round"/>
<polyline points="1019.0,566.7 1025.1,573.1 1032.3,579.2" fill="none" stroke="#ff0000" stroke-width="1.60" stroke-linejoin="round"/>
<path d="M695.4 476.6C706.2 479.1 737.6 485.9 760.0 491.4C782.4 496.9 811.7 504.4 830.0 509.4C848.3 514.4 858.3 517.8 870.0 521.4C881.7 525.0 889.6 527.5 900.0 530.8C910.4 534.1 922.6 537.9 932.6 541.2C942.6 544.5 950.4 547.2 960.0 550.6C969.6 554.0 985.1 560.0 990.1 561.9" fill="none" stroke="#ff0000" stroke-width="1.50" stroke-linejoin="round" stroke-dasharray="1.7 0.9"/>
<path d="M695.4 542.1C706.2 543.6 739.2 548.2 760.0 551.1C780.8 554.0 801.7 556.5 820.0 559.2C838.3 561.9 853.3 564.4 870.0 567.2C886.7 570.0 905.0 573.3 920.0 576.2C935.0 579.1 949.3 582.3 960.0 584.6C970.7 586.9 976.1 588.3 984.1 590.0C992.1 591.7 1001.0 593.4 1008.2 594.6C1015.4 595.8 1023.0 596.4 1027.5 597.0C1032.0 597.6 1034.0 597.9 1035.3 598.1" fill="none" stroke="#00ff00" stroke-width="1.60" stroke-linejoin="round"/>
<polyline points="1035.3,598.1 1044.3,605.7 1056.4,613.5 1074.4,622.8" fill="none" stroke="#00ff00" stroke-width="1.60" stroke-linejoin="round"/>
<path d="M695.4 542.6C706.2 544.2 739.2 549.0 760.0 552.0C780.8 555.0 801.7 557.6 820.0 560.3C838.3 563.0 853.3 565.5 870.0 568.4C886.7 571.2 905.0 574.5 920.0 577.4C935.0 580.3 949.3 583.4 960.0 585.9C970.7 588.4 976.1 590.4 984.1 592.4C992.1 594.4 1000.8 596.1 1008.2 597.8C1015.6 599.4 1025.3 601.5 1028.7 602.3" fill="none" stroke="#00ff00" stroke-width="1.50" stroke-linejoin="round" stroke-dasharray="1.7 0.9"/>
<path d="M697.0 582.3C707.5 583.2 737.8 585.7 760.0 587.6C782.2 589.5 810.8 591.9 830.0 593.7C849.2 595.5 860.0 596.7 875.0 598.2C890.0 599.8 905.8 601.3 920.0 603.0C934.2 604.7 949.3 606.9 960.0 608.3C970.7 609.7 976.1 610.4 984.1 611.5C992.1 612.6 1000.2 613.7 1008.2 614.7C1016.2 615.7 1023.9 616.7 1032.3 617.5C1040.7 618.3 1054.3 619.3 1058.7 619.7" fill="none" stroke="#0000ff" stroke-width="1.60" stroke-linejoin="round"/>
<polyline points="1058.7,619.7 1072.5,630.5 1088.2,637.7 1112.9,648.8" fill="none" stroke="#0000ff" stroke-width="1.60" stroke-linejoin="round"/>
<path d="M697.0 582.6C707.5 583.5 737.8 586.0 760.0 588.0C782.2 590.0 810.8 592.5 830.0 594.3C849.2 596.1 860.0 597.4 875.0 599.0C890.0 600.6 905.8 602.3 920.0 604.1C934.2 605.9 949.3 608.3 960.0 609.9C970.7 611.5 976.1 612.4 984.1 613.7C992.1 615.0 1000.2 616.4 1008.2 617.7C1016.2 619.0 1024.3 620.1 1032.3 621.3C1040.3 622.5 1050.4 623.9 1056.4 624.9C1062.4 625.9 1065.1 626.4 1068.4 627.0C1071.7 627.6 1074.2 628.0 1076.0 628.6C1077.8 629.2 1078.8 629.8 1079.4 630.4C1080.0 631.0 1080.3 632.0 1079.8 632.2C1079.3 632.4 1078.0 632.4 1076.6 631.8C1075.2 631.1 1072.3 628.9 1071.5 628.3" fill="none" stroke="#0000ff" stroke-width="1.50" stroke-linejoin="round" stroke-dasharray="1.7 0.9"/>
<path d="M697.2 628.9C707.7 629.3 737.9 630.4 760.0 631.2C782.1 632.1 811.7 633.2 830.0 634.0C848.3 634.8 852.5 635.0 870.0 636.0C887.5 637.0 913.3 638.6 935.0 639.8C956.7 641.0 982.5 642.4 1000.0 643.2C1017.5 644.1 1026.5 644.5 1040.0 644.9C1053.5 645.3 1074.2 645.7 1081.0 645.9" fill="none" stroke="#00ffff" stroke-width="1.60" stroke-linejoin="round"/>
<polyline points="1081.0,645.9 1094.2,650.4 1112.3,654.8 1118.3,659.4 1124.3,663.0 1136.4,668.4 1154.5,675.1 1170.7,680.5" fill="none" stroke="#00ffff" stroke-width="1.60" stroke-linejoin="round"/>
<path d="M1000.0 644.4C1006.7 644.9 1027.3 646.1 1040.0 647.1C1052.7 648.1 1064.0 649.4 1076.1 650.4C1088.1 651.4 1100.2 652.3 1112.3 653.4C1124.3 654.5 1137.6 656.0 1148.4 657.0C1159.2 658.0 1172.5 659.2 1177.3 659.6" fill="none" stroke="#00ffff" stroke-width="1.50" stroke-linejoin="round" stroke-dasharray="1.7 0.9"/>
<text x="735.04" y="479.00" style="font-family:'Liberation Serif',serif;font-size:20.5px;letter-spacing:0.5px" fill="#ff0000" stroke="#ff0000" stroke-width="0.60" text-anchor="start" textLength="37.0" lengthAdjust="spacingAndGlyphs">200</text>
<text x="782.56" y="479.00" style="font-family:'Liberation Serif',serif;font-size:19.6px;letter-spacing:0.5px" fill="#ff0000" stroke="#ff0000" stroke-width="0.60" text-anchor="start" textLength="15.4" lengthAdjust="spacingAndGlyphs">M</text>
<circle cx="806.0" cy="478.0" r="6.38" fill="none" stroke="#ff0000" stroke-width="1.65"/>
<circle cx="806.0" cy="478.0" r="1.65" fill="#ff0000"/>
<text x="816.88" y="551.90" style="font-family:'Liberation Serif',serif;font-size:20.5px;letter-spacing:0.5px" fill="#00ff00" stroke="#00ff00" stroke-width="0.60" text-anchor="start" textLength="35.4" lengthAdjust="spacingAndGlyphs">150</text>
<text x="862.86" y="551.90" style="font-family:'Liberation Serif',serif;font-size:19.6px;letter-spacing:0.5px" fill="#00ff00" stroke="#00ff00" stroke-width="0.60" text-anchor="start" textLength="15.4" lengthAdjust="spacingAndGlyphs">M</text>
<circle cx="886.3" cy="550.9" r="6.38" fill="none" stroke="#00ff00" stroke-width="1.65"/>
<circle cx="886.3" cy="550.9" r="1.65" fill="#00ff00"/>
<text x="1082.78" y="632.00" style="font-family:'Liberation Serif',serif;font-size:20.5px;letter-spacing:0.5px" fill="#0000ff" stroke="#0000ff" stroke-width="0.60" text-anchor="start" textLength="35.4" lengthAdjust="spacingAndGlyphs">120</text>
<text x="1128.76" y="632.00" style="font-family:'Liberation Serif',serif;font-size:19.6px;letter-spacing:0.5px" fill="#0000ff" stroke="#0000ff" stroke-width="0.60" text-anchor="start" textLength="15.4" lengthAdjust="spacingAndGlyphs">M</text>
<circle cx="1152.2" cy="631.0" r="6.38" fill="none" stroke="#0000ff" stroke-width="1.65"/>
<circle cx="1152.2" cy="631.0" r="1.65" fill="#0000ff"/>
<text x="1080.34" y="691.40" style="font-family:'Liberation Serif',serif;font-size:20.5px;letter-spacing:0.5px" fill="#00ffff" stroke="#00ffff" stroke-width="0.60" text-anchor="start" textLength="25.0" lengthAdjust="spacingAndGlyphs">85</text>
<text x="1115.10" y="691.40" style="font-family:'Liberation Serif',serif;font-size:19.6px;letter-spacing:0.5px" fill="#00ffff" stroke="#00ffff" stroke-width="0.60" text-anchor="start" textLength="15.4" lengthAdjust="spacingAndGlyphs">M</text>
<circle cx="1138.5" cy="690.4" r="6.38" fill="none" stroke="#00ffff" stroke-width="1.65"/>
<circle cx="1138.5" cy="690.4" r="1.65" fill="#00ffff"/>
<text x="913.60" y="555.00" style="font-family:'Liberation Serif',serif;font-size:21.8px;letter-spacing:0.5px" fill="#000" stroke="#000" stroke-width="0.60" text-anchor="start" textLength="13.0" lengthAdjust="spacingAndGlyphs">B</text>
<text x="968.40" y="581.50" style="font-family:'Liberation Serif',serif;font-size:21.8px;letter-spacing:0.5px" fill="#000" stroke="#000" stroke-width="0.60" text-anchor="start" textLength="36.6" lengthAdjust="spacingAndGlyphs">A1a</text>
<text x="882.30" y="614.60" style="font-family:'Liberation Serif',serif;font-size:21.8px;letter-spacing:0.5px" fill="#000" stroke="#000" stroke-width="0.60" text-anchor="start" textLength="12.0" lengthAdjust="spacingAndGlyphs">C</text>
<text x="976.90" y="641.00" style="font-family:'Liberation Serif',serif;font-size:21.8px;letter-spacing:0.5px" fill="#000" stroke="#000" stroke-width="0.60" text-anchor="start" textLength="36.8" lengthAdjust="spacingAndGlyphs">A1b</text>
<path d="M529.47 351.10v-5.90M529.47 19.20v5.90M448.93 351.10v-8.30M448.93 19.20v8.30M368.40 351.10v-5.90M368.40 19.20v5.90M287.87 351.10v-8.30M287.87 19.20v8.30M207.33 351.10v-5.90M207.33 19.20v5.90M126.80 317.91h5.90M610.00 317.91h-5.90M126.80 284.72h8.30M610.00 284.72h-8.30M126.80 251.53h5.90M610.00 251.53h-5.90M126.80 218.34h8.30M610.00 218.34h-8.30M126.80 185.15h5.90M610.00 185.15h-5.90M126.80 151.96h8.30M610.00 151.96h-8.30M126.80 118.77h5.90M610.00 118.77h-5.90M126.80 85.58h8.30M610.00 85.58h-8.30M126.80 52.39h5.90M610.00 52.39h-5.90" stroke="#000" stroke-width="1.50" fill="none"/>
<rect x="126.80" y="19.20" width="483.20" height="331.90" fill="none" stroke="#000" stroke-width="1.70"/>
<text transform="scale(1.10 1)" x="544.95 553.36 561.77" y="372.30" text-anchor="middle" style="font-family:'Liberation Sans',sans-serif;font-weight:bold;font-size:14.7px">4.5</text>
<text transform="scale(1.10 1)" x="398.53 406.94 415.35" y="372.30" text-anchor="middle" style="font-family:'Liberation Sans',sans-serif;font-weight:bold;font-size:14.7px">4.6</text>
<text transform="scale(1.10 1)" x="252.11 260.52 268.92" y="372.30" text-anchor="middle" style="font-family:'Liberation Sans',sans-serif;font-weight:bold;font-size:14.7px">4.7</text>
<text transform="scale(1.10 1)" x="105.68 114.09 122.50" y="372.30" text-anchor="middle" style="font-family:'Liberation Sans',sans-serif;font-weight:bold;font-size:14.7px">4.8</text>
<text transform="scale(1.10 1)" x="84.55 92.95 101.36" y="356.70" text-anchor="middle" style="font-family:'Liberation Sans',sans-serif;font-weight:bold;font-size:14.7px">5.8</text>
<text transform="scale(1.10 1)" x="84.55 92.95 101.36" y="290.32" text-anchor="middle" style="font-family:'Liberation Sans',sans-serif;font-weight:bold;font-size:14.7px">6.0</text>
<text transform="scale(1.10 1)" x="84.55 92.95 101.36" y="223.94" text-anchor="middle" style="font-family:'Liberation Sans',sans-serif;font-weight:bold;font-size:14.7px">6.2</text>
<text transform="scale(1.10 1)" x="84.55 92.95 101.36" y="157.56" text-anchor="middle" style="font-family:'Liberation Sans',sans-serif;font-weight:bold;font-size:14.7px">6.4</text>
<text transform="scale(1.10 1)" x="84.55 92.95 101.36" y="91.18" text-anchor="middle" style="font-family:'Liberation Sans',sans-serif;font-weight:bold;font-size:14.7px">6.6</text>
<text transform="scale(1.10 1)" x="84.55 92.95 101.36" y="24.80" text-anchor="middle" style="font-family:'Liberation Sans',sans-serif;font-weight:bold;font-size:14.7px">6.8</text>
<path d="M742.80 351.10v-5.90M742.80 19.20v5.90M791.10 351.10v-8.30M791.10 19.20v8.30M839.40 351.10v-5.90M839.40 19.20v5.90M887.70 351.10v-8.30M887.70 19.20v8.30M936.00 351.10v-5.90M936.00 19.20v5.90M984.30 351.10v-8.30M984.30 19.20v8.30M1032.60 351.10v-5.90M1032.60 19.20v5.90M1080.90 351.10v-8.30M1080.90 19.20v8.30M1129.20 351.10v-5.90M1129.20 19.20v5.90M694.50 317.91h5.90M1177.50 317.91h-5.90M694.50 284.72h8.30M1177.50 284.72h-8.30M694.50 251.53h5.90M1177.50 251.53h-5.90M694.50 218.34h8.30M1177.50 218.34h-8.30M694.50 185.15h5.90M1177.50 185.15h-5.90M694.50 151.96h8.30M1177.50 151.96h-8.30M694.50 118.77h5.90M1177.50 118.77h-5.90M694.50 85.58h8.30M1177.50 85.58h-8.30M694.50 52.39h5.90M1177.50 52.39h-5.90" stroke="#000" stroke-width="1.50" fill="none"/>
<rect x="694.50" y="19.20" width="483.00" height="331.90" fill="none" stroke="#000" stroke-width="1.70"/>
<text transform="scale(1.10 1)" x="621.77 630.18 638.59" y="372.30" text-anchor="middle" style="font-family:'Liberation Sans',sans-serif;font-weight:bold;font-size:14.7px">5.8</text>
<text transform="scale(1.10 1)" x="709.59 718.00 726.41" y="372.30" text-anchor="middle" style="font-family:'Liberation Sans',sans-serif;font-weight:bold;font-size:14.7px">6.0</text>
<text transform="scale(1.10 1)" x="797.41 805.82 814.23" y="372.30" text-anchor="middle" style="font-family:'Liberation Sans',sans-serif;font-weight:bold;font-size:14.7px">6.2</text>
<text transform="scale(1.10 1)" x="885.23 893.64 902.05" y="372.30" text-anchor="middle" style="font-family:'Liberation Sans',sans-serif;font-weight:bold;font-size:14.7px">6.4</text>
<text transform="scale(1.10 1)" x="973.05 981.45 989.86" y="372.30" text-anchor="middle" style="font-family:'Liberation Sans',sans-serif;font-weight:bold;font-size:14.7px">6.6</text>
<text transform="scale(1.10 1)" x="1060.86 1069.27 1077.68" y="372.30" text-anchor="middle" style="font-family:'Liberation Sans',sans-serif;font-weight:bold;font-size:14.7px">6.8</text>
<text transform="scale(1.10 1)" x="617.45" y="356.70" text-anchor="middle" style="font-family:'Liberation Sans',sans-serif;font-weight:bold;font-size:14.7px">0</text>
<text transform="scale(1.10 1)" x="609.05 617.45" y="290.32" text-anchor="middle" style="font-family:'Liberation Sans',sans-serif;font-weight:bold;font-size:14.7px">20</text>
<text transform="scale(1.10 1)" x="609.05 617.45" y="223.94" text-anchor="middle" style="font-family:'Liberation Sans',sans-serif;font-weight:bold;font-size:14.7px">40</text>
<text transform="scale(1.10 1)" x="609.05 617.45" y="157.56" text-anchor="middle" style="font-family:'Liberation Sans',sans-serif;font-weight:bold;font-size:14.7px">60</text>
<text transform="scale(1.10 1)" x="609.05 617.45" y="91.18" text-anchor="middle" style="font-family:'Liberation Sans',sans-serif;font-weight:bold;font-size:14.7px">80</text>
<text transform="scale(1.10 1)" x="600.64 609.05 617.45" y="24.80" text-anchor="middle" style="font-family:'Liberation Sans',sans-serif;font-weight:bold;font-size:14.7px">100</text>
<path d="M167.07 741.30v-5.90M167.07 409.30v5.90M207.33 741.30v-8.30M207.33 409.30v8.30M247.60 741.30v-5.90M247.60 409.30v5.90M287.87 741.30v-8.30M287.87 409.30v8.30M328.13 741.30v-5.90M328.13 409.30v5.90M368.40 741.30v-8.30M368.40 409.30v8.30M408.67 741.30v-5.90M408.67 409.30v5.90M448.93 741.30v-8.30M448.93 409.30v8.30M489.20 741.30v-5.90M489.20 409.30v5.90M529.47 741.30v-8.30M529.47 409.30v8.30M569.73 741.30v-5.90M569.73 409.30v5.90M126.80 699.80h5.90M610.00 699.80h-5.90M126.80 658.30h8.30M610.00 658.30h-8.30M126.80 616.80h5.90M610.00 616.80h-5.90M126.80 575.30h8.30M610.00 575.30h-8.30M126.80 533.80h5.90M610.00 533.80h-5.90M126.80 492.30h8.30M610.00 492.30h-8.30M126.80 450.80h5.90M610.00 450.80h-5.90" stroke="#000" stroke-width="1.50" fill="none"/>
<rect x="126.80" y="409.30" width="483.20" height="332.00" fill="none" stroke="#000" stroke-width="1.70"/>
<text transform="scale(1.10 1)" x="115.00" y="762.50" text-anchor="middle" style="font-family:'Liberation Sans',sans-serif;font-weight:bold;font-size:14.7px">0</text>
<text transform="scale(1.10 1)" x="178.89 187.30 195.71" y="762.50" text-anchor="middle" style="font-family:'Liberation Sans',sans-serif;font-weight:bold;font-size:14.7px">0.5</text>
<text transform="scale(1.10 1)" x="252.11 260.52 268.92" y="762.50" text-anchor="middle" style="font-family:'Liberation Sans',sans-serif;font-weight:bold;font-size:14.7px">1.0</text>
<text transform="scale(1.10 1)" x="325.32 333.73 342.14" y="762.50" text-anchor="middle" style="font-family:'Liberation Sans',sans-serif;font-weight:bold;font-size:14.7px">1.5</text>
<text transform="scale(1.10 1)" x="398.53 406.94 415.35" y="762.50" text-anchor="middle" style="font-family:'Liberation Sans',sans-serif;font-weight:bold;font-size:14.7px">2.0</text>
<text transform="scale(1.10 1)" x="471.74 480.15 488.56" y="762.50" text-anchor="middle" style="font-family:'Liberation Sans',sans-serif;font-weight:bold;font-size:14.7px">2.5</text>
<text transform="scale(1.10 1)" x="544.95 553.36 561.77" y="762.50" text-anchor="middle" style="font-family:'Liberation Sans',sans-serif;font-weight:bold;font-size:14.7px">3.0</text>
<text transform="scale(1.10 1)" x="101.36" y="746.90" text-anchor="middle" style="font-family:'Liberation Sans',sans-serif;font-weight:bold;font-size:14.7px">0</text>
<text transform="scale(1.10 1)" x="92.95 101.36" y="663.90" text-anchor="middle" style="font-family:'Liberation Sans',sans-serif;font-weight:bold;font-size:14.7px">20</text>
<text transform="scale(1.10 1)" x="92.95 101.36" y="580.90" text-anchor="middle" style="font-family:'Liberation Sans',sans-serif;font-weight:bold;font-size:14.7px">40</text>
<text transform="scale(1.10 1)" x="92.95 101.36" y="497.90" text-anchor="middle" style="font-family:'Liberation Sans',sans-serif;font-weight:bold;font-size:14.7px">60</text>
<text transform="scale(1.10 1)" x="92.95 101.36" y="414.90" text-anchor="middle" style="font-family:'Liberation Sans',sans-serif;font-weight:bold;font-size:14.7px">80</text>
<path d="M734.75 741.30v-5.90M734.75 409.30v5.90M775.00 741.30v-8.30M775.00 409.30v8.30M815.25 741.30v-5.90M815.25 409.30v5.90M855.50 741.30v-8.30M855.50 409.30v8.30M895.75 741.30v-5.90M895.75 409.30v5.90M936.00 741.30v-8.30M936.00 409.30v8.30M976.25 741.30v-5.90M976.25 409.30v5.90M1016.50 741.30v-8.30M1016.50 409.30v8.30M1056.75 741.30v-5.90M1056.75 409.30v5.90M1097.00 741.30v-8.30M1097.00 409.30v8.30M1137.25 741.30v-5.90M1137.25 409.30v5.90M694.50 708.10h5.90M1177.50 708.10h-5.90M694.50 674.90h8.30M1177.50 674.90h-8.30M694.50 641.70h5.90M1177.50 641.70h-5.90M694.50 608.50h8.30M1177.50 608.50h-8.30M694.50 575.30h5.90M1177.50 575.30h-5.90M694.50 542.10h8.30M1177.50 542.10h-8.30M694.50 508.90h5.90M1177.50 508.90h-5.90M694.50 475.70h8.30M1177.50 475.70h-8.30M694.50 442.50h5.90M1177.50 442.50h-5.90" stroke="#000" stroke-width="1.50" fill="none"/>
<rect x="694.50" y="409.30" width="483.00" height="332.00" fill="none" stroke="#000" stroke-width="1.70"/>
<text transform="scale(1.10 1)" x="631.09" y="762.50" text-anchor="middle" style="font-family:'Liberation Sans',sans-serif;font-weight:bold;font-size:14.7px">0</text>
<text transform="scale(1.10 1)" x="694.95 703.36 711.77" y="762.50" text-anchor="middle" style="font-family:'Liberation Sans',sans-serif;font-weight:bold;font-size:14.7px">0.5</text>
<text transform="scale(1.10 1)" x="768.14 776.55 784.95" y="762.50" text-anchor="middle" style="font-family:'Liberation Sans',sans-serif;font-weight:bold;font-size:14.7px">1.0</text>
<text transform="scale(1.10 1)" x="841.32 849.73 858.14" y="762.50" text-anchor="middle" style="font-family:'Liberation Sans',sans-serif;font-weight:bold;font-size:14.7px">1.5</text>
<text transform="scale(1.10 1)" x="914.50 922.91 931.32" y="762.50" text-anchor="middle" style="font-family:'Liberation Sans',sans-serif;font-weight:bold;font-size:14.7px">2.0</text>
<text transform="scale(1.10 1)" x="987.68 996.09 1004.50" y="762.50" text-anchor="middle" style="font-family:'Liberation Sans',sans-serif;font-weight:bold;font-size:14.7px">2.5</text>
<text transform="scale(1.10 1)" x="1060.86 1069.27 1077.68" y="762.50" text-anchor="middle" style="font-family:'Liberation Sans',sans-serif;font-weight:bold;font-size:14.7px">3.0</text>
<text transform="scale(1.10 1)" x="617.45" y="746.90" text-anchor="middle" style="font-family:'Liberation Sans',sans-serif;font-weight:bold;font-size:14.7px">0</text>
<text transform="scale(1.10 1)" x="609.05 617.45" y="680.50" text-anchor="middle" style="font-family:'Liberation Sans',sans-serif;font-weight:bold;font-size:14.7px">50</text>
<text transform="scale(1.10 1)" x="600.64 609.05 617.45" y="614.10" text-anchor="middle" style="font-family:'Liberation Sans',sans-serif;font-weight:bold;font-size:14.7px">100</text>
<text transform="scale(1.10 1)" x="600.64 609.05 617.45" y="547.70" text-anchor="middle" style="font-family:'Liberation Sans',sans-serif;font-weight:bold;font-size:14.7px">150</text>
<text transform="scale(1.10 1)" x="600.64 609.05 617.45" y="481.30" text-anchor="middle" style="font-family:'Liberation Sans',sans-serif;font-weight:bold;font-size:14.7px">200</text>
<text transform="scale(1.10 1)" x="600.64 609.05 617.45" y="414.90" text-anchor="middle" style="font-family:'Liberation Sans',sans-serif;font-weight:bold;font-size:14.7px">250</text>
<text x="311.80" y="395.20" style="font-family:'Liberation Serif',serif;font-size:20.6px;letter-spacing:0.5px" fill="#000" stroke="#000" stroke-width="0.60" text-anchor="start" textLength="27.8" lengthAdjust="spacingAndGlyphs">log</text>
<text x="350.20" y="395.20" style="font-family:'Liberation Serif',serif;font-size:20.6px;letter-spacing:0.5px" fill="#000" stroke="#000" stroke-width="0.60" text-anchor="start" textLength="15.4" lengthAdjust="spacingAndGlyphs">(T</text>
<text x="366.80" y="400.60" style="font-family:'Liberation Serif',serif;font-size:20.6px;letter-spacing:0.5px" fill="#000" stroke="#000" stroke-width="0.60" text-anchor="start" textLength="24.6" lengthAdjust="spacingAndGlyphs">eff</text>
<text x="391.40" y="395.20" style="font-family:'Liberation Serif',serif;font-size:20.6px;letter-spacing:0.5px" fill="#000" stroke="#000" stroke-width="0.60" text-anchor="start" textLength="33.2" lengthAdjust="spacingAndGlyphs">/K)</text>
<g transform="translate(75.4 227.4) rotate(-90)">
<text x="-0.30" y="0.00" style="font-family:'Liberation Serif',serif;font-size:20.6px;letter-spacing:0.5px" fill="#000" stroke="#000" stroke-width="0.60" text-anchor="start" textLength="27.8" lengthAdjust="spacingAndGlyphs">log</text>
<text x="37.20" y="0.00" style="font-family:'Liberation Serif',serif;font-size:20.6px;letter-spacing:0.5px" fill="#000" stroke="#000" stroke-width="0.60" text-anchor="start" textLength="33.6" lengthAdjust="spacingAndGlyphs">L/L</text>
<circle cx="76.9" cy="-1.3" r="5.80" fill="none" stroke="#000" stroke-width="1.50"/>
<circle cx="76.9" cy="-1.3" r="1.50" fill="#000"/>
</g>
<text x="885.50" y="392.10" style="font-family:'Liberation Serif',serif;font-size:20.6px;letter-spacing:0.5px" fill="#000" stroke="#000" stroke-width="0.60" text-anchor="start" textLength="27.8" lengthAdjust="spacingAndGlyphs">log</text>
<text x="923.80" y="392.10" style="font-family:'Liberation Serif',serif;font-size:20.6px;letter-spacing:0.5px" fill="#000" stroke="#000" stroke-width="0.60" text-anchor="start" textLength="38.8" lengthAdjust="spacingAndGlyphs">(L/L</text>
<circle cx="971.0" cy="391.4" r="5.80" fill="none" stroke="#000" stroke-width="1.50"/>
<circle cx="971.0" cy="391.4" r="1.50" fill="#000"/>
<text x="978.80" y="395.60" style="font-family:'Liberation Serif',serif;font-size:20.6px;letter-spacing:0.5px" fill="#000" stroke="#000" stroke-width="0.60" text-anchor="start" textLength="7.0" lengthAdjust="spacingAndGlyphs">)</text>
<g transform="translate(645.5 209.9) rotate(-90)">
<text x="0.00" y="0.00" style="font-family:'Liberation Serif',serif;font-size:20.6px;letter-spacing:0.5px" fill="#000" stroke="#000" stroke-width="0.60" text-anchor="start" textLength="10.7" lengthAdjust="spacingAndGlyphs">X</text>
<text x="11.40" y="3.40" style="font-family:'Liberation Serif',serif;font-size:12.4px;letter-spacing:0.5px" fill="#000" stroke="#000" stroke-width="0.60" text-anchor="start" textLength="8.8" lengthAdjust="spacingAndGlyphs">H</text>
<text x="36.30" y="0.00" style="font-family:'Liberation Serif',serif;font-size:20.6px;letter-spacing:0.5px" fill="#000" stroke="#000" stroke-width="0.60" text-anchor="start" textLength="11.4" lengthAdjust="spacingAndGlyphs">%</text>
</g>
<g transform="translate(87.5 599.9) rotate(-90)">
<text x="0.00" y="0.00" style="font-family:'Liberation Serif',serif;font-size:20.6px;letter-spacing:0.5px" fill="#000" stroke="#000" stroke-width="0.60" text-anchor="start" textLength="10.7" lengthAdjust="spacingAndGlyphs">X</text>
<text x="11.40" y="3.40" style="font-family:'Liberation Serif',serif;font-size:12.4px;letter-spacing:0.5px" fill="#000" stroke="#000" stroke-width="0.60" text-anchor="start" textLength="8.8" lengthAdjust="spacingAndGlyphs">H</text>
<text x="36.30" y="0.00" style="font-family:'Liberation Serif',serif;font-size:20.6px;letter-spacing:0.5px" fill="#000" stroke="#000" stroke-width="0.60" text-anchor="start" textLength="11.4" lengthAdjust="spacingAndGlyphs">%</text>
</g>
<text x="322.30" y="785.10" style="font-family:'Liberation Serif',serif;font-size:20.6px;letter-spacing:0.5px" fill="#000" stroke="#000" stroke-width="0.60" text-anchor="start" textLength="32.0" lengthAdjust="spacingAndGlyphs">Age</text>
<text x="365.30" y="785.10" style="font-family:'Liberation Serif',serif;font-size:20.6px;letter-spacing:0.5px" fill="#000" stroke="#000" stroke-width="0.60" text-anchor="start" textLength="47.8" lengthAdjust="spacingAndGlyphs">(Myr)</text>
<text x="890.30" y="785.10" style="font-family:'Liberation Serif',serif;font-size:20.6px;letter-spacing:0.5px" fill="#000" stroke="#000" stroke-width="0.60" text-anchor="start" textLength="32.0" lengthAdjust="spacingAndGlyphs">Age</text>
<text x="933.30" y="785.10" style="font-family:'Liberation Serif',serif;font-size:20.6px;letter-spacing:0.5px" fill="#000" stroke="#000" stroke-width="0.60" text-anchor="start" textLength="47.8" lengthAdjust="spacingAndGlyphs">(Myr)</text>
<g transform="translate(642.9 624.2) rotate(-90)">
<text x="-0.30" y="0.00" style="font-family:'Liberation Serif',serif;font-size:20.6px;letter-spacing:0.5px" fill="#000" stroke="#000" stroke-width="0.60" text-anchor="start" textLength="44.2" lengthAdjust="spacingAndGlyphs">Mass</text>
<text x="53.00" y="0.00" style="font-family:'Liberation Serif',serif;font-size:20.6px;letter-spacing:0.5px" fill="#000" stroke="#000" stroke-width="0.60" text-anchor="start" textLength="9.0" lengthAdjust="spacingAndGlyphs">(</text>
<text x="61.90" y="0.00" style="font-family:'Liberation Serif',serif;font-size:20.6px;letter-spacing:0.5px" fill="#000" stroke="#000" stroke-width="0.60" text-anchor="start" textLength="13.8" lengthAdjust="spacingAndGlyphs">M</text>
<circle cx="82.5" cy="-1.2" r="5.90" fill="none" stroke="#000" stroke-width="1.50"/>
<circle cx="82.5" cy="-1.2" r="1.50" fill="#000"/>
<text x="88.00" y="4.50" style="font-family:'Liberation Serif',serif;font-size:20.6px;letter-spacing:0.5px" fill="#000" stroke="#000" stroke-width="0.60" text-anchor="start" textLength="9.0" lengthAdjust="spacingAndGlyphs">)</text>
</g>
</svg>
</body></html>
